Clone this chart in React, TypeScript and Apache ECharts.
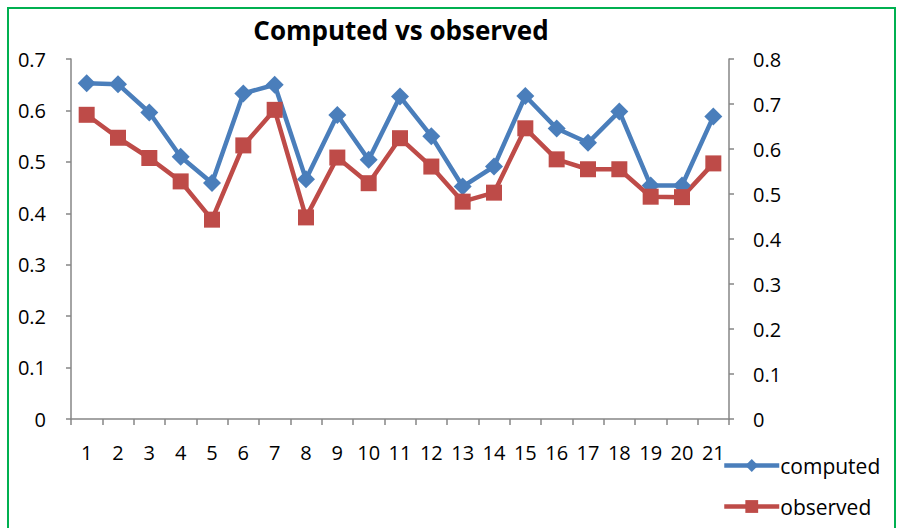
import React, { useEffect, useRef } from "react";
import * as echarts from "echarts";

const categories = ["1","2","3","4","5","6","7","8","9","10","11","12","13","14","15","16","17","18","19","20","21"];
const computed = [0.653,0.651,0.596,0.510,0.459,0.633,0.650,0.466,0.591,0.504,0.627,0.550,0.452,0.491,0.628,0.565,0.537,0.598,0.454,0.454,0.588];
const observed = [0.676,0.625,0.580,0.528,0.443,0.608,0.687,0.448,0.581,0.524,0.624,0.561,0.483,0.503,0.646,0.577,0.555,0.555,0.494,0.493,0.568];
const title = "Computed vs observed";

const FONT = "'Open Sans', sans-serif";
const AXIS_COLOR = "#868686";
const BLUE = "#4A7EBB";
const RED = "#BE4B48";

export default function App() {
  const ref = useRef<HTMLDivElement>(null);
  useEffect(() => {
    if (!ref.current) return;
    const chart = echarts.init(ref.current, null, { renderer: "svg" });
    chart.setOption({
      animation: false,
      backgroundColor: "#ffffff",
      title: {
        text: title,
        left: 396,
        top: 12,
        textAlign: "center",
        textStyle: { fontFamily: FONT, fontWeight: "bold", fontSize: 26, color: "#000" },
      },
      graphic: [
        {
          type: "rect",
          shape: { x: 8, y: 8, width: 887, height: 540 },
          style: { fill: "none", stroke: "#00B050", lineWidth: 2 },
          silent: true,
        },
      ],
      legend: {
        orient: "vertical",
        left: 717,
        top: 450,
        itemWidth: 55,
        itemHeight: 16,
        itemGap: 20,
        lineStyle: { width: 4.5 },
        textStyle: { fontFamily: FONT, fontSize: 21, color: "#000", padding: [0, 0, 0, -4] },
        data: ["computed", "observed"],
      },
      grid: { left: 71, right: 169, top: 59, bottom: 109, containLabel: false },
      xAxis: {
        type: "category",
        data: categories,
        boundaryGap: true,
        axisLine: { lineStyle: { color: AXIS_COLOR, width: 1.5 } },
        axisTick: { show: true, length: 6, lineStyle: { color: AXIS_COLOR, width: 1.5 } },
        axisLabel: { fontFamily: FONT, fontSize: 20, color: "#000", margin: 23, interval: 0 },
      },
      yAxis: [
        {
          type: "value",
          min: 0,
          max: 0.7,
          interval: 0.1,
          position: "left",
          splitLine: { show: false },
          axisLine: { show: true, lineStyle: { color: AXIS_COLOR, width: 1.5 } },
          axisTick: { show: true, length: 5, lineStyle: { color: AXIS_COLOR, width: 1.5 } },
          axisLabel: {
            fontFamily: FONT, fontSize: 20, color: "#000", margin: 25,
            formatter: (v: number) => (Math.round(v * 10) / 10).toString(),
          },
        },
        {
          type: "value",
          min: 0,
          max: 0.8,
          interval: 0.1,
          position: "right",
          splitLine: { show: false },
          axisLine: { show: true, lineStyle: { color: AXIS_COLOR, width: 1.5 } },
          axisTick: { show: true, length: 5, lineStyle: { color: AXIS_COLOR, width: 1.5 } },
          axisLabel: {
            fontFamily: FONT, fontSize: 20, color: "#000", margin: 24,
            formatter: (v: number) => (Math.round(v * 10) / 10).toString(),
          },
        },
      ],
      series: [
        {
          name: "computed",
          type: "line",
          yAxisIndex: 0,
          data: computed,
          symbol: "diamond",
          symbolSize: 18,
          lineStyle: { color: BLUE, width: 4.5 },
          itemStyle: { color: BLUE },
        },
        {
          name: "observed",
          type: "line",
          yAxisIndex: 1,
          data: observed,
          symbol: "rect",
          symbolSize: 16,
          lineStyle: { color: RED, width: 4.5 },
          itemStyle: { color: RED },
        },
      ],
    });
    return () => chart.dispose();
  }, []);
  return (
    <div
      ref={ref}
      style={{ position: "fixed", left: 0, top: 0, width: 898, height: 528 }}
    />
  );
}
